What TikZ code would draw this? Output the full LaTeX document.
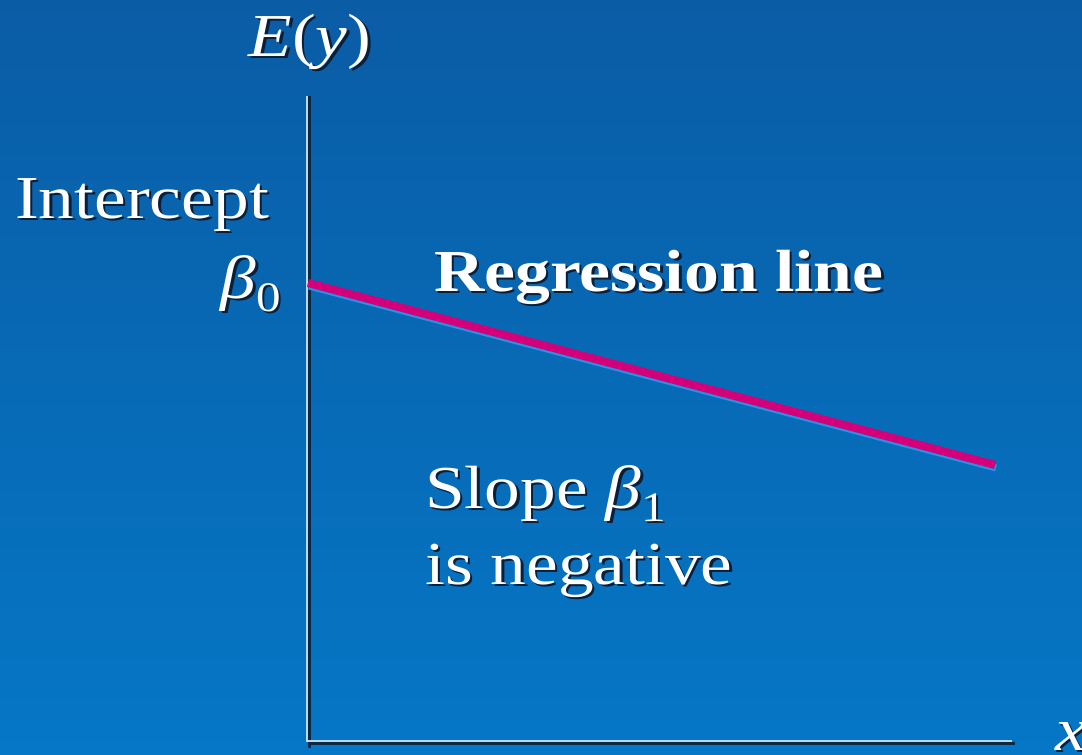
\documentclass[tikz,border=0pt]{standalone}
\usepackage{fontspec}
\setmainfont{Liberation Serif}[FakeStretch=1.17]
\definecolor{bgtop}{HTML}{0A5CA5}
\definecolor{bgbot}{HTML}{0577C6}
\definecolor{axislight}{HTML}{BCD6EE}
\definecolor{axisdark}{HTML}{0B2845}
\definecolor{regline}{HTML}{D4007A}
\definecolor{reglineshadow}{HTML}{2A8FE6}
\definecolor{txtshadow}{HTML}{0A1F3A}
\newcommand\mysub[1]{\raisebox{-0.22em}{\fontsize{42}{48}\selectfont #1}}
\newcommand\shadowlabel[4]{%
  \node[lbl,txtshadow,anchor=#3] (#2-sh) at ([xshift=2.5pt,yshift=-2.5pt]#1) {#4};
  \node[lbl,white,anchor=#3] (#2) at (#1) {#4};}
\begin{document}
\begin{tikzpicture}[x=1pt,y=-1pt,
  lbl/.style={inner sep=0pt,font=\fontsize{61}{72}\selectfont},
  axisline/.style={axislight,line width=2.5pt},
  axisshadow/.style={axisdark,line width=2.5pt},
  regstyle/.style={regline,line width=8pt},
  regshadow/.style={reglineshadow,line width=7pt}]
\fill[top color=bgtop,bottom color=bgbot] (0,0) rectangle (1082,755);
\useasboundingbox (0,0) rectangle (1082,755);
% axes
\coordinate (origin) at (307,741);
\coordinate (ytop) at (307,96);
\coordinate (xend) at (1012,741);
\draw[axisshadow] ([xshift=2.5pt]ytop) -- ([xshift=2.5pt,yshift=-7pt]origin);
\draw[axisshadow] ([xshift=2.5pt,yshift=-2.5pt]origin) -- ([xshift=2.5pt,yshift=-2.5pt]xend);
\draw[axisline] (ytop) -- (origin) -- (xend);
% regression line
\coordinate (b0pt) at (308,283);
\coordinate (rend) at (995,465);
\draw[regshadow] ([xshift=1pt,yshift=-3pt]b0pt) -- ([xshift=1pt,yshift=-3pt]rend);
\draw[regstyle] (b0pt) -- (rend);
% labels
\shadowlabel{310,56}{ey}{base}{\textit{E}(\textit{y})}
\shadowlabel{15,218}{intercept}{base west}{Intercept}
\shadowlabel{281,298}{beta0}{base east}{\textit{β}\mysub{0}}
\shadowlabel{434,291}{regtitle}{base west}{\fontsize{59.5}{72}\selectfont\bfseries Regression line}
\shadowlabel{425,508}{slope}{base west}{Slope \textit{β}\mysub{1}}
\shadowlabel{425,584}{neg}{base west}{is negative}
\shadowlabel{1055,750}{xlab}{base west}{\textit{x}}
\end{tikzpicture}
\end{document}
